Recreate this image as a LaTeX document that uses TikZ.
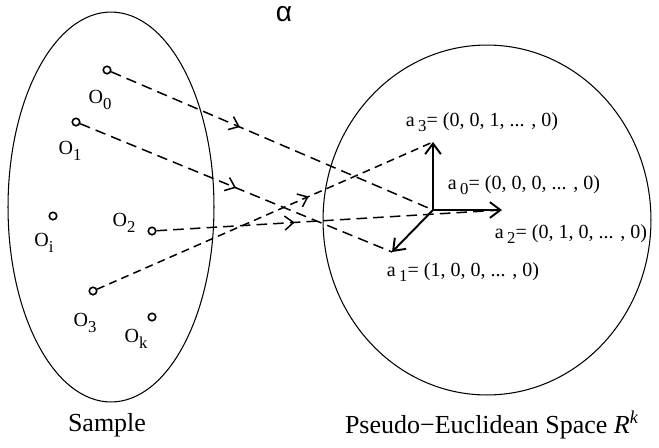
\documentclass[tikz,border=0pt]{standalone}
\usepackage{fontspec}
\setmainfont{Liberation Serif}
\newfontfamily\greekfont{Liberation Sans}
\usetikzlibrary{shapes.geometric,arrows.meta,decorations.markings}

\newcommand{\lowsub}[1]{\raisebox{-0.6ex}{\fontsize{9.5}{9.5}\selectfont #1}}

\tikzset{
  obj/.style={draw, circle, line width=0.9pt, inner sep=0pt, minimum size=0.15cm},
  region/.style={draw, ellipse, line width=0.6pt, inner sep=0pt},
  objlabel/.style={font=\fontsize{11.4}{13}\selectfont, inner sep=0pt},
  map/.style={line width=0.85pt, dash pattern=on 6pt off 3.5pt, postaction={decorate},
    decoration={markings, mark=at position #1 with {\arrow{Straight Barb[length=5pt,width=8pt]}}}},
  axis/.style={line width=1.1pt, -{Straight Barb[length=6pt,width=9pt]}},
}

\begin{document}
\begin{tikzpicture}[x=0.02cm, y=-0.02cm]
\useasboundingbox (0,0) rectangle (659,447);

% the two sets
\node (sample) [region, minimum width=4.12cm, minimum height=7.8cm] at (111,207) {};
\node (space) [region, minimum width=6.56cm, minimum height=7cm] at (487,220) {};

\node (alpha) [font=\greekfont\fontsize{16}{18}\selectfont] at (284,14) {α};

% objects of the sample
\node (o0) [obj] at (107,70) {};
\node (o1) [obj] at (76,122) {};
\node (oi) [obj] at (53,216) {};
\node (o2) [obj] at (152,231) {};
\node (o3) [obj] at (93,291) {};
\node (ok) [obj] at (152,317) {};

\node [objlabel] at (100,100) {O\lowsub{0}};
\node [objlabel] at (70,151) {O\lowsub{1}};
\node [objlabel] at (44,243) {O\lowsub{i}};
\node [objlabel] at (124,223) {O\lowsub{2}};
\node [objlabel] at (85,323) {O\lowsub{3}};
\node [objlabel] at (136,339) {O\lowsub{k}};

% basis of the space
\coordinate (origin) at (433,210);
\coordinate (a1) at (392,252);
\coordinate (a2) at (502,210);
\coordinate (a3) at (433,142);

\draw [axis] (origin) -- (a3);
\draw [axis] (origin) -- (a2);
\draw [axis] (origin) -- (a1);

\node [objlabel] at (482,122) {a\,\lowsub{3}= (0, 0, 1, ... , 0)};
\node [objlabel] at (524,185) {a\,\lowsub{0}= (0, 0, 0, ... , 0)};
\node [objlabel] at (571,234) {a\,\lowsub{2}= (0, 1, 0, ... , 0)};
\node [objlabel] at (463,272) {a\,\lowsub{1}= (1, 0, 0, ... , 0)};

% the mapping
\draw [map=0.4] (o0) -- (origin);
\draw [map=0.5] (o1) -- (a1);
\draw [map=0.4] (o2) -- (a2);
\draw [map=0.63, dash pattern=on 4.5pt off 3pt] (o3) -- (a3);

\node [font=\fontsize{14.8}{17}\selectfont] at (107,425) {Sample};
\node [font=\fontsize{14.8}{17}\selectfont] at (492,425) {Pseudo−Euclidean Space \textit{R}\textsuperscript{\textit{k}}};

\end{tikzpicture}
\end{document}
